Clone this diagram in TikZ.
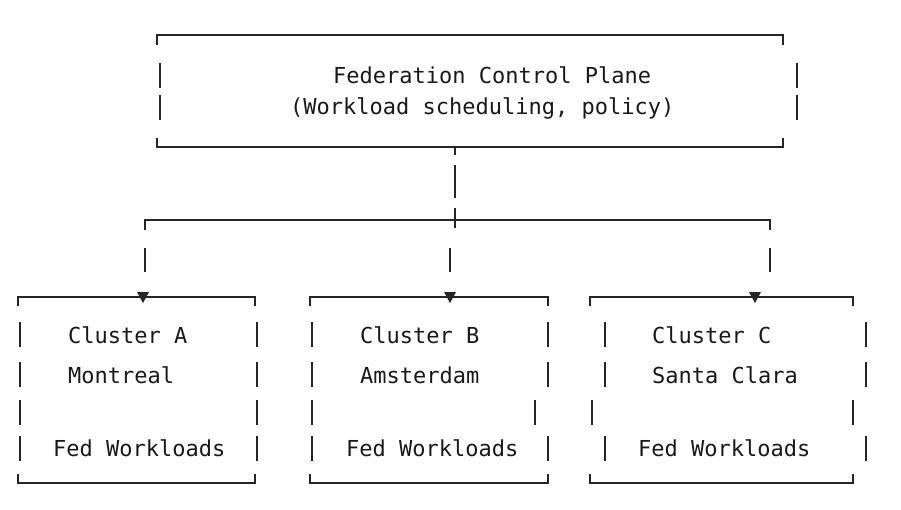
\documentclass[tikz,border=0pt]{standalone}
\usepackage{fontspec}
\setmonofont{DejaVu Sans Mono}
\begin{document}
\begin{tikzpicture}[x=1pt,y=-1pt,
  ln/.style={line width=1.4pt,black!85},
  txt/.style={font=\ttfamily\fontsize{22}{26}\selectfont,anchor=west,inner sep=0pt,text=black!90},
  tip/.style={fill=black!85,draw=none}]
\useasboundingbox (0,0) rectangle (901,510);
% top box
\draw[ln] (157,45)--(157,35)--(783,35)--(783,45);
\draw[ln] (160,63)--(160,88) (160,95)--(160,120);
\draw[ln] (797,63)--(797,88) (797,95)--(797,120);
\draw[ln] (157,138)--(157,147)--(783,147)--(783,138);
\draw[ln] (455,147)--(455,155);
\node[txt] (t1) at (333,75) {Federation Control Plane};
\node[txt] (t2) at (290,108) {(Workload scheduling, policy)};
% stem and bus
\draw[ln] (455,165)--(455,198) (455,208)--(455,228);
\draw[ln] (145,230)--(145,220)--(770,220)--(770,230);
\draw[ln] (145,248)--(145,272) (450,248)--(450,272) (770,248)--(770,272);
% boxes
\foreach \l/\r/\rr/\a/\n in {18/255/257/143/A,310/548/548/450/B,590/853/866/755/C}{
  \draw[ln] (\l,306)--(\l,297)--(\r,297)--(\r,306);
  \draw[ln] (\l,474)--(\l,483)--(\r,483)--(\r,474);
  \fill[tip] (\a-6,292)--(\a+6,292)--(\a,303)--cycle;
}
\draw[ln] (20,322)--(20,347) (20,362)--(20,387) (20,400)--(20,425) (20,436)--(20,461);
\draw[ln] (257,322)--(257,347) (257,362)--(257,387) (257,400)--(257,425) (257,436)--(257,461);
\draw[ln] (312,322)--(312,347) (312,362)--(312,387) (312,400)--(312,425) (312,436)--(312,461);
\draw[ln] (548,322)--(548,347) (548,362)--(548,387) (535,400)--(535,425) (548,436)--(548,461);
\draw[ln] (605,322)--(605,347) (605,362)--(605,387) (592,400)--(592,425) (605,436)--(605,461);
\draw[ln] (866,322)--(866,347) (866,362)--(866,387) (853,400)--(853,425) (866,436)--(866,461);
\node[txt] (a1) at (68,335) {Cluster A};
\node[txt] (a2) at (68,375) {Montreal};
\node[txt] (a3) at (53,448) {Fed Workloads};
\node[txt] (b1) at (360,335) {Cluster B};
\node[txt] (b2) at (360,375) {Amsterdam};
\node[txt] (b3) at (346,448) {Fed Workloads};
\node[txt] (c1) at (652,335) {Cluster C};
\node[txt] (c2) at (652,375) {Santa Clara};
\node[txt] (c3) at (638,448) {Fed Workloads};
\end{tikzpicture}
\end{document}
